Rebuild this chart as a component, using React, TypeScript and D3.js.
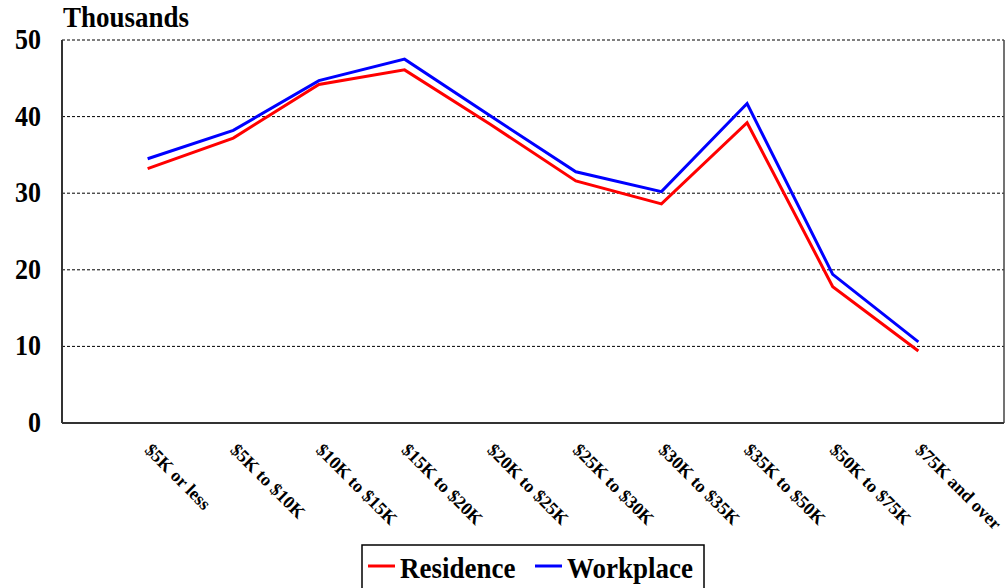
import React from "react";
import * as d3 from "d3";

const categories = [
  "$5K or less",
  "$5K to $10K",
  "$10K to $15K",
  "$15K to $20K",
  "$20K to $25K",
  "$25K to $30K",
  "$30K to $35K",
  "$35K to $50K",
  "$50K to $75K",
  "$75K and over",
];
const residence = [33.2, 37.2, 44.2, 46.1, 39.0, 31.6, 28.6, 39.2, 17.8, 9.4];
const workplace = [34.5, 38.2, 44.7, 47.5, 40.1, 32.8, 30.2, 41.7, 19.4, 10.6];
const yTicks = [0, 10, 20, 30, 40, 50];
const seriesNames = ["Residence", "Workplace"];
const seriesColors = ["#ff0000", "#0000ff"];

const W = 1007;
const H = 588;
const left = 62;
const right = 1004;
const top = 40;
const bottom = 423;
const font = "'Liberation Serif', 'Times New Roman', serif";

export default function App() {
  const x = d3.scaleLinear().domain([0, categories.length + 1]).range([left, right]);
  const y = d3.scaleLinear().domain([0, 50]).range([bottom, top]);
  const line = d3
    .line<number>()
    .x((_, i) => x(i + 1))
    .y((d) => y(d));
  const series = [residence, workplace];

  return (
    <svg
      width={W}
      height={H}
      style={{ position: "absolute", left: 0, top: 0, background: "#fff" }}
      fontFamily={font}
    >
      <rect x={0} y={0} width={W} height={H} fill="#fff" />
      {yTicks
        .filter((t) => t > 0)
        .map((t) => (
          <line
            key={t}
            x1={left}
            x2={right}
            y1={y(t)}
            y2={y(t)}
            stroke="#000"
            strokeWidth={1}
            strokeDasharray="3,2"
          />
        ))}
      <line x1={right} x2={right} y1={top} y2={bottom} stroke="#444" strokeWidth={1.5} />
      <line x1={left} x2={left} y1={top} y2={bottom} stroke="#333" strokeWidth={2} />
      <line x1={left} x2={right} y1={bottom} y2={bottom} stroke="#333" strokeWidth={2} />
      {yTicks.map((t) => (
        <text
          key={t}
          transform={`translate(41,${y(t) + 9}) scale(1,1.12)`}
          textAnchor="end"
          fontSize={26}
          fontWeight="bold"
        >
          {t}
        </text>
      ))}
      <text transform="translate(63,27) scale(1,1.1)" fontSize={27} fontWeight="bold">
        Thousands
      </text>
      {series.map((s, i) => (
        <path
          key={i}
          d={line(s) || ""}
          fill="none"
          stroke={seriesColors[i]}
          strokeWidth={3}
          strokeLinejoin="miter"
        />
      ))}
      {categories.map((c, i) => (
        <text
          key={c}
          transform={`translate(${x(i + 1) - 4},${451}) rotate(45)`}
          fontSize={18}
          fontWeight="bold"
        >
          {c}
        </text>
      ))}
      <rect x={362} y={545} width={342} height={46} fill="#fff" stroke="#000" strokeWidth={1.5} />
      {seriesNames.map((n, i) => {
        const lx = i === 0 ? 368 : 535;
        return (
          <g key={n}>
            <line x1={lx} x2={lx + 27} y1={566} y2={566} stroke={seriesColors[i]} strokeWidth={3} />
            <text
              transform={`translate(${lx + 32},578) scale(1,1.1)`}
              fontSize={27}
              fontWeight="bold"
            >
              {n}
            </text>
          </g>
        );
      })}
    </svg>
  );
}
